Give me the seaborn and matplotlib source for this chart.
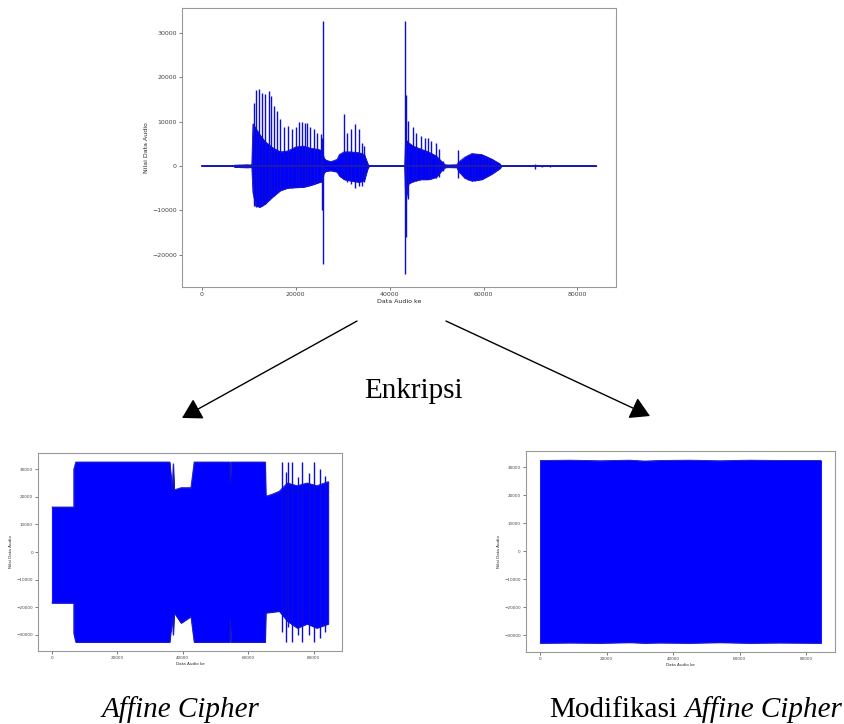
import numpy as np
import matplotlib
matplotlib.use("Agg")
import matplotlib.pyplot as plt
import seaborn as sns

# ---- original audio (top) : dense envelope + individual peaks ----
orig_x = [0, 6700, 7000, 8200, 9600, 10600, 10650, 10900, 11500, 12400, 13500, 15000,
          16700, 18300, 20000, 21700, 23200, 24600, 25600, 26000, 26500, 27500, 28800,
          29300, 30300, 31700, 33500, 34600, 35300, 35600, 43200, 43400, 44000, 45000,
          46700, 48200, 49900, 51000, 51800, 52500, 54300, 54700, 56000, 57500, 59600,
          61700, 63500, 63800, 84000]
orig_hi = [0, 0, 200, 250, 300, 250, 0, 9500, 8500, 7000, 5500, 4200,
           3200, 3400, 4300, 4500, 4000, 3800, 3500, 1800, 1300, 1000, 1500,
           2600, 3200, 3200, 3000, 2600, 600, 0, 0, 6000, 5300, 4500,
           3800, 3200, 2300, 1100, 300, 250, 300, 900, 2000, 2800, 2600,
           1600, 500, 0, 0]
orig_lo = [0, 0, -200, -250, -300, -250, 0, -6000, -9000, -9200, -8500, -7000,
           -5500, -4900, -4800, -4700, -4300, -3800, -3400, -1500, -1100, -1000, -1300,
           -2200, -3000, -3300, -3600, -3200, -600, 0, 0, -8000, -4000, -3400,
           -3000, -3000, -2500, -1100, -300, -250, -300, -1200, -2700, -3300, -3000,
           -1800, -500, 0, 0]

peak_x = [11150, 11650, 12220, 12930, 13500, 14220, 14790, 15430, 16000, 16720,
          17440, 18300, 19220, 20080, 20650, 21370, 22080, 22440, 23150, 23870,
          24590, 25300, 25600, 25870,
          30300, 31000, 31730, 32590, 33520, 34020, 34590,
          43250, 43400, 44020, 44950, 45670, 46740, 47450, 48170, 48880, 49960, 50460, 51390,
          54460, 55300, 56000, 56700, 57460, 58200, 58900, 59600, 60300, 61000, 61750, 62500,
          70970, 72470, 74180]
peak_hi = [14300, 17100, 17400, 16500, 16200, 16900, 15800, 13500, 12400, 10600,
           8700, 9000, 8300, 8800, 10000, 10000, 9800, 9600, 8700, 8300,
           7500, 7200, 6400, 32767,
           11700, 7500, 8300, 9400, 8300, 5300, 4500,
           32767, 16000, 10200, 8700, 7500, 6800, 6400, 6400, 5700, 5300, 3800, 1100,
           3700, 1000, 1800, 2600, 2900, 2800, 2700, 2600, 2200, 1800, 1500, 900,
           500, 300, 300]
peak_lo = [-9000, -9200, -9200, -9000, -8500, -7500, -7000, -6200, -5700, -5200,
           -4900, -4900, -4900, -4800, -4600, -4500, -4600, -4500, -4300, -4000,
           -3800, -3600, -10000, -22000,
           -3000, -3500, -4000, -4900, -4600, -4500, -3500,
           -24400, -16000, -7500, -3500, -3300, -3000, -3000, -3000, -3000, -2800, -2500, -1100,
           -2800, -1400, -2500, -3100, -3400, -3300, -3200, -3000, -2500, -2000, -1500, -800,
           -600, -300, -300]

# ---- Affine Cipher encrypted audio (bottom left) ----
aff_x = [0, 6700, 6700, 7300, 36000, 36800, 37100, 37400, 39500, 42500, 43500, 54400,
         54570, 54750, 65200, 65400, 67500, 69500, 72000, 75000, 78000, 81000, 84500]
aff_hi = [16300, 16300, 30000, 32600, 32600, 22500, 32000, 22500, 23300, 23300, 32600, 32600,
          25000, 32600, 32600, 20200, 21000, 22000, 25000, 24000, 25000, 24000, 25500]
aff_lo = [-18400, -18400, -29500, -32600, -32600, -24000, -30000, -22000, -25700, -23300, -32600, -32600,
          -24500, -32600, -32600, -22000, -21700, -21400, -25000, -27500, -26000, -27500, -26000]
aff_peak_x = [70400, 71700, 72200, 73500, 75300, 76500, 78700, 80300, 82100, 83600]
aff_peak_hi = [32600, 29000, 32600, 32600, 27000, 32600, 28500, 32600, 30000, 27500]
aff_peak_lo = [-29000, -32600, -27000, -32600, -30000, -32600, -30000, -32600, -31000, -29000]

# ---- Modified Affine Cipher encrypted audio (bottom right) ----
mod_x = [0, 9000, 18000, 27000, 31500, 36000, 45000, 54000, 63000, 72000, 84500]
mod_hi = [32500, 32600, 32400, 32600, 32300, 32500, 32600, 32400, 32600, 32500, 32500]
mod_lo = [-32700, -32600, -32700, -32500, -32700, -32600, -32700, -32500, -32700, -32600, -32700]

BLUE = "#0000ff"
EDGE = "#1a1ab0"
STRIPE = "#0c0cd8"

sns.set_style("ticks")
plt.rcParams["font.family"] = ["DejaVu Sans"]

fig = plt.figure(figsize=(8.45, 7.24), dpi=100)


def draw_wave(ax, xs, hi, lo, px=None, phi=None, plo=None, fs=4.5):
    ax.fill_between(xs, lo, hi, color=BLUE, lw=0.6, edgecolor=BLUE)
    sns.lineplot(x=xs, y=hi, ax=ax, color=EDGE, lw=0.6, sort=False, estimator=None)
    sns.lineplot(x=xs, y=lo, ax=ax, color=EDGE, lw=0.6, sort=False, estimator=None)
    if px is not None:
        ax.vlines(px, plo, phi, color=STRIPE, lw=1.0)
    ax.set_xlabel("Data Audio ke", fontsize=fs, labelpad=1)
    ax.set_ylabel("Nilai Data Audio", fontsize=fs, labelpad=2)
    ax.tick_params(labelsize=fs, length=2.2, width=0.5, pad=1.5, colors="#444444")
    for s in ax.spines.values():
        s.set_color("#999999")
        s.set_linewidth(0.8)
    ax.margins(x=0.05, y=0.05)


# top: original
ax_top = fig.add_axes([0.2154, 0.6036, 0.5136, 0.3853])
draw_wave(ax_top, orig_x, orig_hi, orig_lo, peak_x, peak_hi, peak_lo, fs=4.5)
sns.lineplot(x=[orig_x[0], orig_x[-1]], y=[0, 0], ax=ax_top, color=EDGE, lw=1.4)
ax_top.set_yticks([-20000, -10000, 0, 10000, 20000, 30000])
ax_top.set_xticks([0, 20000, 40000, 60000, 80000])

# bottom left: Affine Cipher
ax_bl = fig.add_axes([0.045, 0.1008, 0.3598, 0.2735])
draw_wave(ax_bl, aff_x, aff_hi, aff_lo, aff_peak_x, aff_peak_hi, aff_peak_lo, fs=3)
ax_bl.set_yticks([-30000, -20000, -10000, 0, 10000, 20000, 30000])
ax_bl.set_xticks([0, 20000, 40000, 60000, 80000])

# bottom right: Modified Affine Cipher
ax_br = fig.add_axes([0.6225, 0.0994, 0.3657, 0.2776])
draw_wave(ax_br, mod_x, mod_hi, mod_lo, fs=3)
ax_br.set_yticks([-30000, -20000, -10000, 0, 10000, 20000, 30000])
ax_br.set_xticks([0, 20000, 40000, 60000, 80000])

# arrows and captions
arrow = dict(arrowstyle="-|>,head_length=0.6,head_width=0.35", color="black",
             lw=1.0, shrinkA=0, shrinkB=0, mutation_scale=20)
ax_top.annotate("", xy=(0.2154, 0.4227), xycoords="figure fraction",
                xytext=(0.4225, 0.5566), textcoords="figure fraction",
                arrowprops=arrow, annotation_clip=False)
ax_top.annotate("", xy=(0.7692, 0.4254), xycoords="figure fraction",
                xytext=(0.5278, 0.5566), textcoords="figure fraction",
                arrowprops=arrow, annotation_clip=False)

serif = ["Liberation Serif", "DejaVu Serif"]
fig.text(0.4888, 0.4503, "Enkripsi", fontsize=21, family=serif, color="black",
         ha="center", va="baseline")
fig.text(0.2142, 0.0097, "Affine Cipher", fontsize=21, family=serif, color="black",
         style="italic", ha="center", va="baseline")
t1 = fig.text(0.650, 0.0097, "Modifikasi", fontsize=21, family=serif, color="black",
              ha="left", va="baseline")
renderer = fig.canvas.get_renderer()
bb = t1.get_window_extent(renderer).transformed(fig.transFigure.inverted())
fig.text(bb.x1 + 0.009, 0.0097, "Affine Cipher", fontsize=21, family=serif, color="black",
         style="italic", ha="left", va="baseline")

fig.savefig("out.png", dpi=100)
